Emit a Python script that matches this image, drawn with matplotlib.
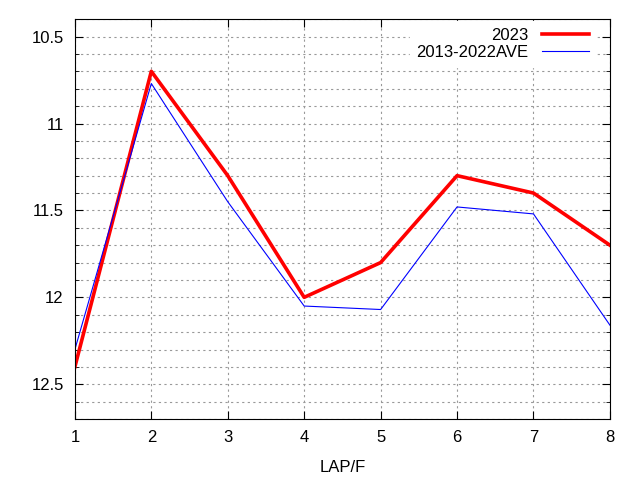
import matplotlib.pyplot as plt
from matplotlib.ticker import MultipleLocator

plt.rcParams['font.family'] = ['Liberation Sans', 'DejaVu Sans']

laps = [1, 2, 3, 4, 5, 6, 7, 8]
y2023 = [12.4, 10.7, 11.3, 12.0, 11.8, 11.3, 11.4, 11.7]
y_ave = [12.3, 10.77, 11.45, 12.05, 12.07, 11.48, 11.52, 12.16]

fig = plt.figure(figsize=(6.4, 4.8), dpi=100)
ax = fig.add_axes([0.117, 0.127, 0.836, 0.833])

ax.plot(laps, y2023, color='#ff0000', lw=2.6, label='2023')
ax.plot(laps, y_ave, color='#0000ff', lw=0.8, label='2013-2022AVE')

ax.set_xlim(1, 8)
ax.set_ylim(12.7, 10.4)
ax.xaxis.set_major_locator(MultipleLocator(1))
ax.yaxis.set_minor_locator(MultipleLocator(0.1))
ax.set_yticks([10.5, 11, 11.5, 12, 12.5])
ax.set_yticklabels(['10.5', '11', '11.5', '12', '12.5'])

ax.tick_params(which='both', direction='in', top=True, right=True, labelsize=12, pad=8)
ax.tick_params(which='major', length=6)
ax.tick_params(which='minor', length=3)
ax.grid(True, which='both', axis='y', color='#999999', ls=(0, (2, 3)), lw=0.8)
ax.grid(True, which='major', axis='x', color='#999999', ls=(0, (2, 3)), lw=0.8)

ax.set_xlabel('LAP/F', fontsize=12, labelpad=11)

leg = ax.legend(loc='upper right', bbox_to_anchor=(0.976, 1.0), markerfirst=False,
                fontsize=12, frameon=True, fancybox=False, framealpha=1,
                edgecolor='white', handlelength=2.8, borderaxespad=0.1,
                labelspacing=0.15)
for t in leg.get_texts():
    t.set_ha('right')

fig.savefig('out.png', dpi=100)
